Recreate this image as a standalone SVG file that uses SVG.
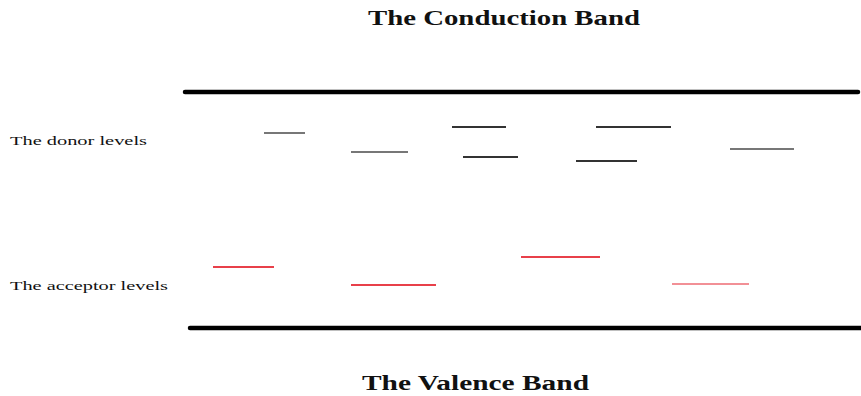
<svg xmlns="http://www.w3.org/2000/svg" width="861" height="396" viewBox="0 0 861 396">
<style>
.title{font-family:"Liberation Serif","Times New Roman",serif;font-weight:bold;font-size:20px;fill:#111}
.lbl{font-family:"Liberation Serif","Times New Roman",serif;font-size:13.5px;fill:#111}
.band{stroke:#000;stroke-width:4.5;stroke-linecap:round}
.donor{stroke:#333;stroke-width:2}
.donor-l{stroke:#777;stroke-width:2}
.acc{stroke:#e8404a;stroke-width:2}
.acc-l{stroke:#f29096;stroke-width:2}
</style>
<rect width="861" height="396" fill="#fff"/>
<g id="conduction-band">
<text class="title" x="368" y="25" textLength="272" lengthAdjust="spacingAndGlyphs">The Conduction Band</text>
<line class="band" x1="185" y1="92" x2="858" y2="92"/>
</g>
<g id="valence-band">
<line class="band" x1="190" y1="328" x2="861" y2="328"/>
<text class="title" x="362" y="390" textLength="227" lengthAdjust="spacingAndGlyphs">The Valence Band</text>
</g>
<g id="donor-levels">
<text class="lbl" x="10" y="145" textLength="137" lengthAdjust="spacingAndGlyphs">The donor levels</text>
<line class="donor-l" x1="264" y1="133" x2="305" y2="133"/>
<line class="donor-l" x1="351" y1="152" x2="408" y2="152"/>
<line class="donor" x1="452" y1="127" x2="506" y2="127"/>
<line class="donor" x1="463" y1="157" x2="518" y2="157"/>
<line class="donor" x1="596" y1="127" x2="671" y2="127"/>
<line class="donor" x1="576" y1="161" x2="637" y2="161"/>
<line class="donor-l" x1="730" y1="149" x2="794" y2="149"/>
</g>
<g id="acceptor-levels">
<text class="lbl" x="10" y="290" textLength="158" lengthAdjust="spacingAndGlyphs">The acceptor levels</text>
<line class="acc" x1="213" y1="267" x2="274" y2="267"/>
<line class="acc" x1="351" y1="285" x2="436" y2="285"/>
<line class="acc" x1="521" y1="257" x2="600" y2="257"/>
<line class="acc-l" x1="672" y1="284" x2="749" y2="284"/>
</g>
</svg>
